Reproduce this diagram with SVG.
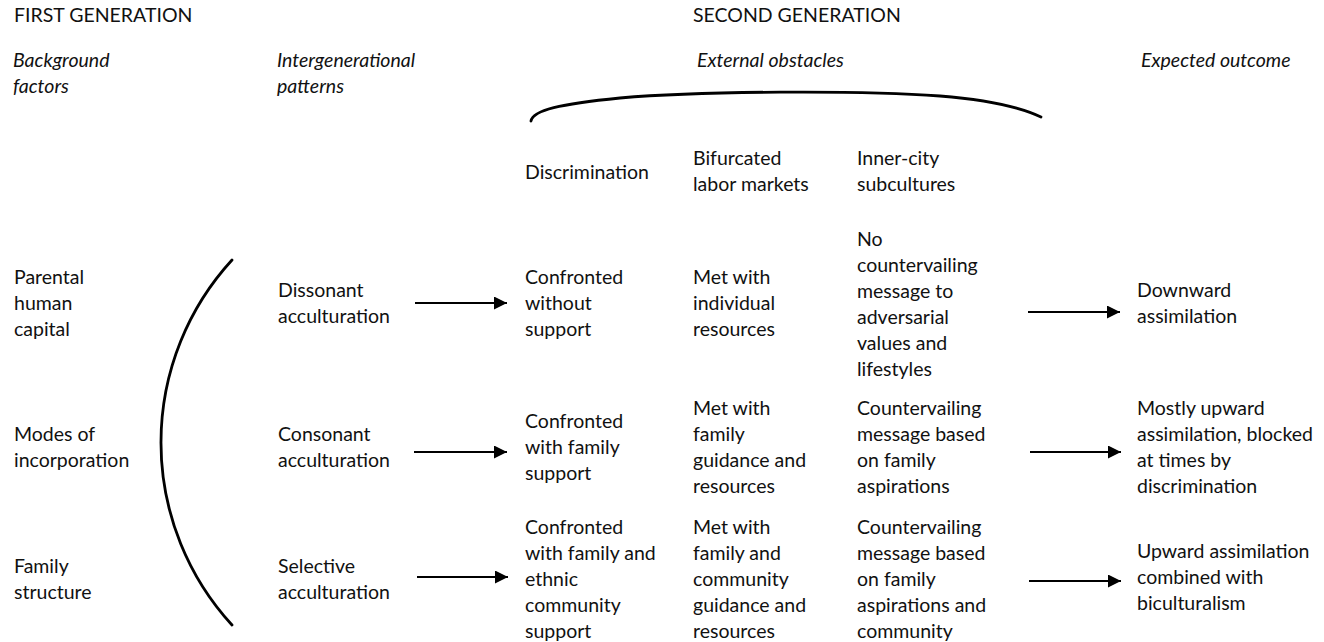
<svg xmlns="http://www.w3.org/2000/svg" width="1324" height="642" viewBox="0 0 1324 642">
  <defs>
    <marker id="head" viewBox="0 0 10 10" refX="10" refY="5" markerWidth="7.5" markerHeight="6.5" markerUnits="strokeWidth" orient="auto">
      <path d="M0,0 L10,5 L0,10 z" fill="#000"/>
    </marker>
    <style>
      text { font-family: Lato, "Liberation Sans", sans-serif; font-size: 19.5px; fill: #111; }
      .it { font-style: italic; }
      .conn { stroke: #000; stroke-width: 2; fill: none; marker-end: url(#head); }
      .brace { stroke: #000; stroke-width: 2.8; fill: none; stroke-linecap: round; }
    </style>
  </defs>
  <rect width="1324" height="642" fill="#fff"/>

  <!-- headings -->
  <g id="headings">
    <text x="14" y="22">FIRST GENERATION</text>
    <text x="693" y="22">SECOND GENERATION</text>
    <text class="it" x="13" y="67">Background</text>
    <text class="it" x="13" y="93">factors</text>
    <text class="it" x="277" y="67">Intergenerational</text>
    <text class="it" x="277" y="93">patterns</text>
    <text class="it" x="697" y="67">External obstacles</text>
    <text class="it" x="1141" y="67">Expected outcome</text>
  </g>

  <!-- brackets -->
  <g id="brackets">
    <path class="brace" d="M531,121 C533,110 560,104 620,98 C700,91 860,90 940,96 C990,100 1020,107 1041,117"/>
    <path class="brace" d="M232,260 A270,270 0 0 0 232,625"/>
  </g>

  <!-- obstacle headings -->
  <g id="obstacles">
    <text x="525" y="179">Discrimination</text>
    <text x="693" y="165">Bifurcated</text>
    <text x="693" y="191">labor markets</text>
    <text x="857" y="165">Inner-city</text>
    <text x="857" y="191">subcultures</text>
  </g>

  <!-- background factors -->
  <g id="parental">
    <text x="14" y="284">Parental</text>
    <text x="14" y="310">human</text>
    <text x="14" y="336">capital</text>
  </g>
  <g id="modes">
    <text x="14" y="441">Modes of</text>
    <text x="14" y="467">incorporation</text>
  </g>
  <g id="family">
    <text x="14" y="573">Family</text>
    <text x="14" y="599">structure</text>
  </g>

  <!-- row 1 -->
  <g id="dissonant">
    <text x="278" y="297">Dissonant</text>
    <text x="278" y="323">acculturation</text>
  </g>
  <g id="confronted-1">
    <text x="525" y="284">Confronted</text>
    <text x="525" y="310">without</text>
    <text x="525" y="336">support</text>
  </g>
  <g id="met-1">
    <text x="693" y="284">Met with</text>
    <text x="693" y="310">individual</text>
    <text x="693" y="336">resources</text>
  </g>
  <g id="message-1">
    <text x="857" y="246">No</text>
    <text x="857" y="272">countervailing</text>
    <text x="857" y="298">message to</text>
    <text x="857" y="324">adversarial</text>
    <text x="857" y="350">values and</text>
    <text x="857" y="376">lifestyles</text>
  </g>
  <g id="outcome-1">
    <text x="1137" y="297">Downward</text>
    <text x="1137" y="323">assimilation</text>
  </g>

  <!-- row 2 -->
  <g id="consonant">
    <text x="278" y="441">Consonant</text>
    <text x="278" y="467">acculturation</text>
  </g>
  <g id="confronted-2">
    <text x="525" y="428">Confronted</text>
    <text x="525" y="454">with family</text>
    <text x="525" y="480">support</text>
  </g>
  <g id="met-2">
    <text x="693" y="415">Met with</text>
    <text x="693" y="441">family</text>
    <text x="693" y="467">guidance and</text>
    <text x="693" y="493">resources</text>
  </g>
  <g id="message-2">
    <text x="857" y="415">Countervailing</text>
    <text x="857" y="441">message based</text>
    <text x="857" y="467">on family</text>
    <text x="857" y="493">aspirations</text>
  </g>
  <g id="outcome-2">
    <text x="1137" y="415">Mostly upward</text>
    <text x="1137" y="441">assimilation, blocked</text>
    <text x="1137" y="467">at times by</text>
    <text x="1137" y="493">discrimination</text>
  </g>

  <!-- row 3 -->
  <g id="selective">
    <text x="278" y="573">Selective</text>
    <text x="278" y="599">acculturation</text>
  </g>
  <g id="confronted-3">
    <text x="525" y="534">Confronted</text>
    <text x="525" y="560">with family and</text>
    <text x="525" y="586">ethnic</text>
    <text x="525" y="612">community</text>
    <text x="525" y="638">support</text>
  </g>
  <g id="met-3">
    <text x="693" y="534">Met with</text>
    <text x="693" y="560">family and</text>
    <text x="693" y="586">community</text>
    <text x="693" y="612">guidance and</text>
    <text x="693" y="638">resources</text>
  </g>
  <g id="message-3">
    <text x="857" y="534">Countervailing</text>
    <text x="857" y="560">message based</text>
    <text x="857" y="586">on family</text>
    <text x="857" y="612">aspirations and</text>
    <text x="857" y="638">community</text>
  </g>
  <g id="outcome-3">
    <text x="1137" y="558">Upward assimilation</text>
    <text x="1137" y="584">combined with</text>
    <text x="1137" y="610">biculturalism</text>
  </g>

  <!-- arrows -->
  <g id="connectors">
    <line class="conn" x1="415" y1="303" x2="507" y2="303"/>
    <line class="conn" x1="414" y1="452" x2="507" y2="452"/>
    <line class="conn" x1="417" y1="577" x2="508" y2="577"/>
    <line class="conn" x1="1028" y1="312" x2="1120" y2="312"/>
    <line class="conn" x1="1030" y1="452" x2="1121" y2="452"/>
    <line class="conn" x1="1029" y1="581" x2="1121" y2="581"/>
  </g>
</svg>
